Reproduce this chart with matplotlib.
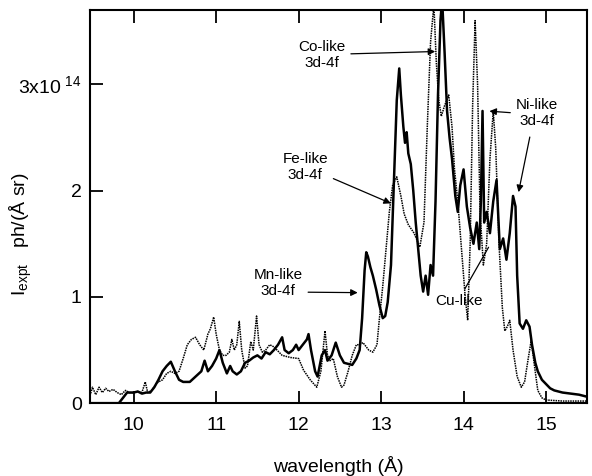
import matplotlib.pyplot as plt

plt.rcParams["font.family"] = ["Liberation Sans", "DejaVu Sans"]
plt.rcParams["mathtext.fontset"] = "custom"
plt.rcParams["mathtext.rm"] = "Liberation Sans"

# measured spectrum (solid), units of 1e14 ph/(A sr)
expt_wl = [9.47, 9.75, 9.82, 9.87, 9.92, 10.0, 10.05, 10.1, 10.15, 10.2,
           10.25, 10.3, 10.35, 10.4, 10.45, 10.5, 10.55, 10.6, 10.68, 10.75,
           10.82, 10.86, 10.9, 10.95, 11.0, 11.04, 11.08, 11.13, 11.17, 11.2,
           11.25, 11.3, 11.35, 11.4, 11.45, 11.5, 11.55, 11.6, 11.65, 11.7,
           11.75, 11.8, 11.83, 11.88, 11.93, 11.97, 12.0, 12.05, 12.1, 12.12,
           12.15, 12.2, 12.23, 12.28, 12.32, 12.35, 12.4, 12.45, 12.5, 12.55,
           12.6, 12.65, 12.7, 12.74, 12.77, 12.8, 12.82, 12.84, 12.87, 12.9,
           12.94, 12.98, 13.02, 13.05, 13.08, 13.12, 13.16, 13.19, 13.22, 13.24,
           13.27, 13.29, 13.31, 13.33, 13.36, 13.39, 13.42, 13.45, 13.48, 13.51,
           13.54, 13.57, 13.6, 13.63, 13.66, 13.69, 13.72, 13.74, 13.77, 13.8,
           13.83, 13.86, 13.9, 13.93, 13.96, 14.0, 14.04, 14.08, 14.12, 14.16,
           14.19, 14.21, 14.23, 14.25, 14.28, 14.32, 14.36, 14.4, 14.44, 14.48,
           14.52, 14.56, 14.6, 14.63, 14.65, 14.68, 14.72, 14.76, 14.8, 14.83,
           14.87, 14.9, 14.95, 15.0, 15.05, 15.1, 15.2, 15.3, 15.4, 15.5]
expt_int = [0.0, 0.0, 0.0, 0.05, 0.1, 0.1, 0.11, 0.09, 0.1, 0.1,
            0.15, 0.22, 0.3, 0.35, 0.39, 0.3, 0.22, 0.2, 0.2, 0.25,
            0.3, 0.4, 0.3, 0.35, 0.42, 0.5, 0.38, 0.28, 0.35, 0.3,
            0.27, 0.3, 0.38, 0.4, 0.43, 0.45, 0.42, 0.48, 0.46, 0.5,
            0.55, 0.62, 0.5, 0.47, 0.5, 0.55, 0.5, 0.55, 0.6, 0.65,
            0.5, 0.3, 0.25, 0.45, 0.5, 0.4, 0.45, 0.57, 0.45, 0.38,
            0.37, 0.36, 0.42, 0.5, 0.8, 1.25, 1.42, 1.38, 1.28, 1.2,
            1.07, 0.92, 0.8, 0.82, 0.95, 1.3, 2.2, 2.85, 3.15, 2.9,
            2.6, 2.45, 2.55, 2.35, 2.25, 2.0, 1.7, 1.45, 1.2, 1.05,
            1.2, 1.02, 1.3, 1.2, 1.9, 2.9, 3.6, 3.8, 3.3, 2.75,
            2.5, 2.3, 1.95, 1.8, 2.05, 2.2, 1.85, 1.65, 1.5, 1.7,
            1.45, 1.9, 2.75, 1.7, 1.8, 1.6, 1.9, 2.1, 1.45, 1.55,
            1.35, 1.6, 1.95, 1.85, 1.2, 0.75, 0.7, 0.78, 0.72, 0.55,
            0.38, 0.3, 0.22, 0.18, 0.14, 0.12, 0.1, 0.09, 0.08, 0.06]

# calculated spectrum (dotted)
calc_wl = [9.47, 9.5, 9.54, 9.58, 9.62, 9.66, 9.7, 9.75, 9.8, 9.85,
           9.9, 9.95, 10.0, 10.05, 10.1, 10.14, 10.17, 10.22, 10.27, 10.3,
           10.35, 10.4, 10.45, 10.5, 10.55, 10.6, 10.65, 10.7, 10.75, 10.8,
           10.85, 10.9, 10.93, 10.97, 11.0, 11.04, 11.08, 11.12, 11.16, 11.19,
           11.22, 11.25, 11.28, 11.31, 11.35, 11.38, 11.42, 11.45, 11.49, 11.52,
           11.56, 11.6, 11.65, 11.7, 11.8, 11.9, 12.0, 12.06, 12.14, 12.22,
           12.27, 12.32, 12.35, 12.38, 12.42, 12.47, 12.52, 12.55, 12.6, 12.65,
           12.7, 12.74, 12.78, 12.85, 12.9, 12.95, 12.98, 13.02, 13.06, 13.1,
           13.14, 13.19, 13.24, 13.28, 13.33, 13.4, 13.47, 13.52, 13.56, 13.6,
           13.64, 13.67, 13.7, 13.73, 13.77, 13.82, 13.86, 13.89, 13.93, 13.97,
           14.02, 14.05, 14.08, 14.11, 14.14, 14.17, 14.2, 14.24, 14.28, 14.32,
           14.36, 14.39, 14.43, 14.47, 14.5, 14.53, 14.56, 14.6, 14.65, 14.7,
           14.74, 14.78, 14.82, 14.86, 14.9, 14.95, 15.0, 15.2, 15.5]
calc_int = [0.07, 0.15, 0.08, 0.15, 0.1, 0.14, 0.11, 0.13, 0.1, 0.08,
            0.12, 0.1, 0.1, 0.11, 0.1, 0.2, 0.1, 0.12, 0.18, 0.2,
            0.22, 0.28, 0.3, 0.28, 0.3, 0.42, 0.55, 0.6, 0.62, 0.55,
            0.5, 0.65, 0.7, 0.81, 0.65, 0.5, 0.45, 0.45, 0.48, 0.6,
            0.5, 0.55, 0.77, 0.5, 0.33, 0.35, 0.58, 0.5, 0.82, 0.55,
            0.48, 0.5, 0.55, 0.53, 0.45, 0.43, 0.42, 0.31, 0.22, 0.15,
            0.3, 0.68, 0.45, 0.4, 0.42, 0.25, 0.15, 0.17, 0.3, 0.45,
            0.55, 0.55, 0.57, 0.5, 0.48, 0.55, 0.8, 1.1, 1.45, 1.8,
            2.05, 2.13, 1.95, 1.78, 1.68, 1.6, 1.47, 1.7, 2.6, 3.4,
            3.75, 3.2, 2.85, 2.7, 2.8, 2.9, 2.6, 2.2, 1.9, 1.5,
            1.0, 0.78, 1.5, 2.8, 3.6, 3.0, 1.8, 1.3, 1.5, 2.3,
            2.75, 2.4, 1.5, 0.9, 0.68, 0.72, 0.78, 0.5, 0.25, 0.15,
            0.2, 0.4, 0.59, 0.35, 0.12, 0.05, 0.03, 0.02, 0.02]

xticks = [10, 11, 12, 13, 14, 15]
yticks = [0, 1, 2, 3]
ytick_labels = ["0", "1", "2", r"3x10$^{\ 14}$"]

fig = plt.figure(figsize=(5.92, 4.76), dpi=100)
ax = fig.add_axes([0.152, 0.153, 0.840, 0.826])

ax.plot(calc_wl, calc_int, color="black", linestyle=(0, (1, 0.6)), linewidth=1.1)
ax.plot(expt_wl, expt_int, color="black", linewidth=1.8)

ax.set_xlim(9.47, 15.5)
ax.set_ylim(0, 3.7)
ax.set_xticks(xticks)
ax.set_yticks(yticks)
ax.set_yticklabels(ytick_labels)
ax.tick_params(direction="in", length=9, width=1.3, labelsize=14, top=True)
ax.tick_params(axis="x", pad=10)
ax.tick_params(axis="y", pad=6)
for s in ax.spines.values():
    s.set_linewidth(1.5)

ax.set_xlabel("wavelength (Å)", fontsize=14)
ax.xaxis.set_label_coords(0.5, -0.135)
ax.set_ylabel(r"I$_{\rm expt}$   ph/(Å sr)", fontsize=14)
ax.yaxis.set_label_coords(-0.112, 0.43)

arrow = dict(arrowstyle="-|>", color="black", lw=0.9, mutation_scale=10)
fs = 11
ax.annotate("Co-like\n3d-4f", xy=(13.69, 3.31), xytext=(12.28, 3.28),
            fontsize=fs, ha="center", va="center", arrowprops=arrow)
ax.annotate("Fe-like\n3d-4f", xy=(13.15, 1.87), xytext=(12.08, 2.22),
            fontsize=fs, ha="center", va="center",
            arrowprops=dict(arrow, relpos=(1.0, 0.2)))
ax.annotate("Mn-like\n3d-4f", xy=(12.75, 1.04), xytext=(11.75, 1.13),
            fontsize=fs, ha="center", va="center",
            arrowprops=dict(arrow, relpos=(1.0, 0.2)))
ax.annotate("Ni-like\n3d-4f", xy=(14.28, 2.75), xytext=(14.89, 2.73),
            fontsize=fs, ha="center", va="center",
            arrowprops=dict(arrow, relpos=(0.0, 0.5)))
ax.annotate("", xy=(14.66, 1.96), xytext=(14.81, 2.53), arrowprops=arrow)
ax.annotate("Cu-like", xy=(14.32, 1.49), xytext=(13.95, 0.96),
            fontsize=fs, ha="center", va="center",
            arrowprops=dict(arrowstyle="-", color="black", lw=0.9,
                            relpos=(0.55, 1.0)))

fig.savefig("out.png", dpi=100)
